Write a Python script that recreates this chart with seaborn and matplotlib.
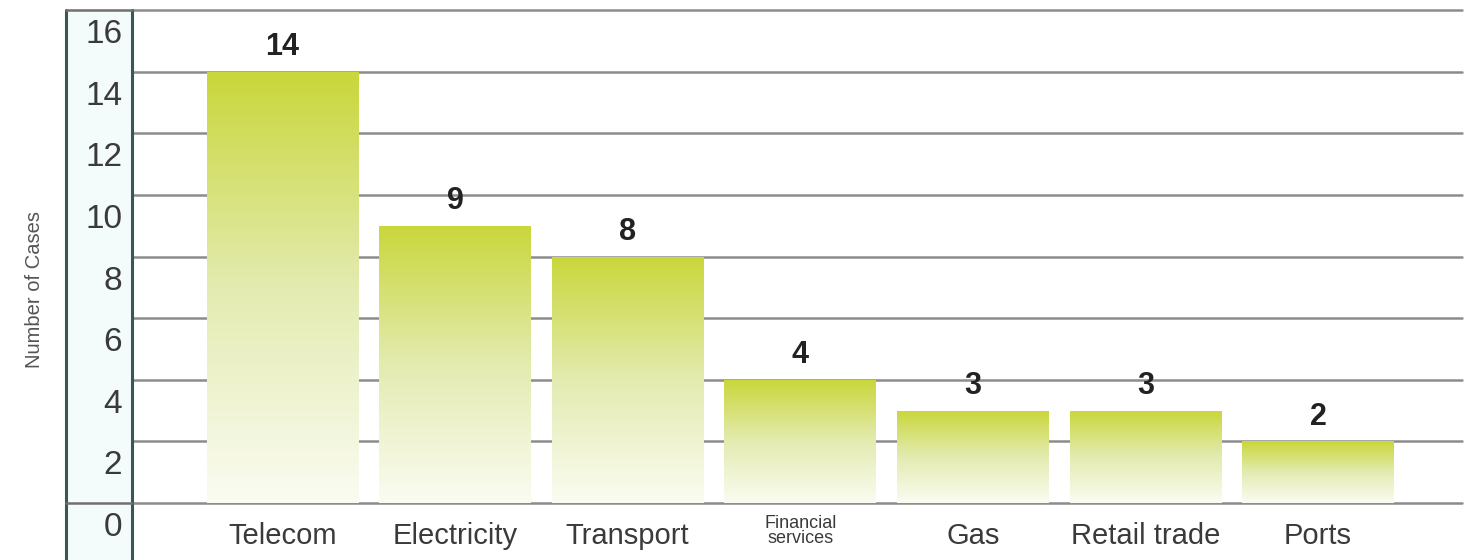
import numpy as np
import matplotlib
matplotlib.use('Agg')
import matplotlib.pyplot as plt
from matplotlib.colors import LinearSegmentedColormap
from matplotlib.transforms import ScaledTranslation
from matplotlib.lines import Line2D
from matplotlib.patches import Rectangle
import seaborn as sns

# 数据
categories = ['Telecom', 'Electricity', 'Transport', 'Financial\nservices', 'Gas', 'Retail trade', 'Ports']
cases = [14, 9, 8, 4, 3, 3, 2]
y_ticks = [0, 2, 4, 6, 8, 10, 12, 14, 16]

sns.set_theme(style='white')
plt.rcParams['font.family'] = ['Liberation Sans', 'DejaVu Sans']

W, H = 1465, 560
fig = plt.figure(figsize=(W / 100, H / 100), dpi=100)
fig.patch.set_facecolor('white')

# 左侧刻度框 (像素 -> 图坐标)
bx0, bx1, by_top, by_zero = 66 / W, 132 / W, 1 - 10 / H, 1 - 503 / H
fig.patches.append(Rectangle((bx0, 0), bx1 - bx0, by_top, transform=fig.transFigure,
                             facecolor='#f4fbfb', edgecolor='none', zorder=-5))
box_color = '#3d5555'
for xx in (bx0, bx1):
    fig.lines.append(Line2D([xx, xx], [0, by_top], transform=fig.transFigure,
                            color=box_color, lw=2.2, zorder=5))
for yy in (by_top, by_zero):
    fig.lines.append(Line2D([bx0, bx1], [yy, yy], transform=fig.transFigure,
                            color='#707070', lw=1.8, zorder=5))

ax = fig.add_axes([bx1, by_zero, 1462 / W - bx1, by_top - by_zero])
ax.patch.set_alpha(0)

sns.barplot(x=categories, y=cases, ax=ax, width=0.88, color='#c8d63a', zorder=3)

# 网格线
for v in y_ticks:
    ax.axhline(v, color='#8c8c8c', lw=1.8, zorder=1, clip_on=False)

# 渐变填充
cmap = LinearSegmentedColormap.from_list('bar_grad', ['#fbfcf2', '#e3ebb0', '#c9d73a'])
grad = np.linspace(0, 1, 256).reshape(-1, 1)
for p in ax.patches:
    x0, y0 = p.get_x(), p.get_y()
    w, h = p.get_width(), p.get_height()
    im = ax.imshow(grad, cmap=cmap, aspect='auto', origin='lower',
                   extent=[x0, x0 + w, y0, y0 + h], zorder=3)
    im.set_clip_path(p)
    p.set_facecolor('none')
    p.set_edgecolor('none')

ax.bar_label(ax.containers[0], fontsize=22, fontweight='bold', color='#222222', padding=7)

ax.set_xlim(-0.872, 6.834)
ax.set_ylim(0, 16)
for s in ax.spines.values():
    s.set_visible(False)

# y 轴刻度标签放在网格线下方
ax.set_yticks(y_ticks)
ax.set_yticklabels([str(v) for v in y_ticks], fontsize=24, color='#3a3a3a')
ax.tick_params(axis='y', length=0, pad=7)
shift = ScaledTranslation(0, -21 / 100, fig.dpi_scale_trans)
for lab in ax.get_yticklabels():
    lab.set_transform(lab.get_transform() + shift)

ax.tick_params(axis='x', length=0, pad=14)
ax.set_xticks(range(len(categories)))
ax.set_xticklabels(categories, color='#3a3a3a', fontsize=21,
                   family=['Liberation Sans Narrow', 'Liberation Sans', 'DejaVu Sans'])
up = ScaledTranslation(0, 7 / 100, fig.dpi_scale_trans)
for lab in ax.get_xticklabels():
    if '\n' in lab.get_text():
        lab.set_fontsize(13)
        lab.set_linespacing(0.8)
        lab.set_transform(lab.get_transform() + up)

ax.set_xlabel('')
ax.set_ylabel('')
fig.text(35 / W, 1 - 289 / H, 'Number of Cases', rotation=90, ha='center', va='center',
         fontsize=14.5, color='#555555',
         family=['Liberation Sans Narrow', 'Liberation Sans', 'DejaVu Sans'])

fig.savefig('out.png', dpi=100, facecolor='white')
